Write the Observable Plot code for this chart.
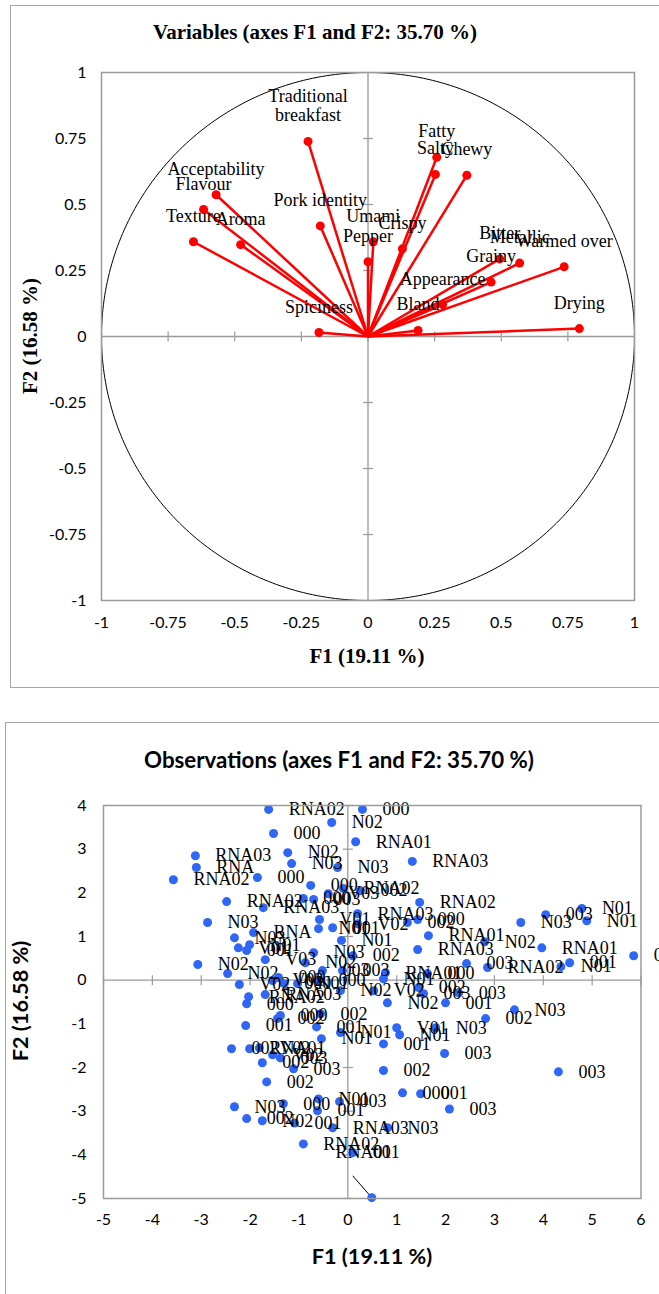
<!DOCTYPE html>
<html><head><meta charset="utf-8">
<script src="https://cdn.jsdelivr.net/npm/d3@7"></script>
<script src="https://cdn.jsdelivr.net/npm/@observablehq/plot@0.6"></script>
<style>
body{margin:0;background:#fff;width:659px;height:1294px;position:relative;overflow:hidden}
.box{position:absolute;border:1.5px solid #a6a6a6;box-sizing:border-box}
.abs{position:absolute;white-space:nowrap;line-height:1;transform:translate(-50%,-50%)}
.serif{font-family:"Liberation Serif","Times New Roman",serif;font-weight:bold}
.sans{font-family:Lato,"Open Sans",sans-serif;font-weight:bold}
#c1,#c2{position:absolute;left:0}
</style></head><body>
<div class="box" style="left:10px;top:5px;width:700px;height:683px"></div>
<div class="box" style="left:5px;top:722px;width:700px;height:700px"></div>
<div id="c1" style="top:0"></div>
<div id="c2" style="top:722px"></div>
<div class="abs serif" style="left:315px;top:32px;font-size:21px">Variables (axes F1 and F2: 35.70 %)</div>
<div class="abs serif" style="left:367px;top:656px;font-size:21px">F1 (19.11 %)</div>
<div class="abs serif" style="left:30px;top:336px;font-size:21px;transform:translate(-50%,-50%) rotate(-90deg)">F2 (16.58 %)</div>
<div class="abs sans" style="left:339px;top:760px;font-size:22.3px">Observations (axes F1 and F2: 35.70 %)</div>
<div class="abs sans" style="left:372px;top:1257px;font-size:21.7px">F1 (19.11 %)</div>
<div class="abs sans" style="left:21px;top:1001px;font-size:21.7px;transform:translate(-50%,-50%) rotate(-90deg)">F2 (16.58 %)</div>
<script>
// ---- Variables chart data ----
const varNames = ["Traditional\nbreakfast","Acceptability","Flavour","Texture","Aroma","Pork identity","Umami","Pepper","Crispy","Fatty","Salty","Chewy","Bitter","Metallic","Warmed over","Grainy","Appearance","Bland","Drying","Spiciness"];
const varF1 = [-0.225,-0.570,-0.617,-0.655,-0.478,-0.179,0.020,0.000,0.129,0.258,0.253,0.371,0.494,0.569,0.736,0.462,0.280,0.188,0.793,-0.184];
const varF2 = [0.739,0.537,0.481,0.359,0.348,0.419,0.359,0.283,0.332,0.679,0.614,0.611,0.294,0.278,0.264,0.206,0.121,0.023,0.030,0.015];
const ticks1 = [-1,-0.75,-0.5,-0.25,0,0.25,0.5,0.75,1];

// ---- Observations chart data ----
const obsLabel = ["RNA02","000","N02","000","RNA01","RNA03","N02","RNA03","RNA","N03","N03","RNA02","000","000","RNA02","V03","RNA02","RNA03","000","RNA02",
"RNA03","002","000","RNA01","RNA03","N02","N03","003","N01","N01","RNA01","001","N01","003","003","RNA02","000","RNA01","002","003",
"N02","001","003","N03","002","V01","N01","N03","001","003","003","002","000","001","003","N03","N03","RNA","N03","N01",
"V01","001","N02","N02","V03","N03","N02","002","N01","V01","N01","001","V02","003","003","N01","V02","000","N01","000",
"N02","V02","V02","000","RNA02","000","RNA03","000","002","002","001","001","N01","N01","002","RNA01","V02","V02","003","002",
"003","002","N01","001","000","N03","003","002","N02","001","RNA03","RNA02","001","003","002"];
const obsF1 = [-1.62,0.30,-0.33,-1.52,0.16,-3.12,-1.23,1.32,-3.10,-1.15,-0.21,-3.57,-1.85,-0.76,-0.09,-0.40,-2.48,-1.73,-0.91,1.47,
0.20,1.22,1.43,1.65,1.43,2.80,3.54,4.05,4.79,4.89,3.97,4.54,4.36,5.85,2.43,2.86,1.63,0.77,1.45,1.55,
0.81,2.00,2.27,3.41,2.82,1.00,1.06,1.80,0.73,1.98,4.31,0.73,1.12,1.49,2.08,0.81,-2.87,-1.93,-2.32,-2.01,
-2.24,-2.07,-3.07,-2.46,-1.69,-0.70,-0.87,0.10,-0.13,-0.58,-0.60,-0.31,0.20,-0.52,-0.11,0.73,-1.54,-1.42,-1.03,-0.60,
-0.15,0.53,-2.22,-1.30,-2.03,-2.07,-1.69,-1.38,-1.44,-0.56,-0.64,-2.09,-0.15,-0.54,-2.38,-2.01,-1.81,-1.54,-1.38,-1.75,
-1.11,-1.66,-0.60,-0.62,-1.32,-2.32,-0.17,-2.07,-1.75,-1.09,-0.31,-0.91,0.10,-0.70,0.26];
const obsF2 = [3.91,3.91,3.61,3.36,3.17,2.85,2.92,2.72,2.58,2.67,2.58,2.30,2.35,2.17,2.10,1.98,1.80,1.66,1.87,1.78,
1.52,1.32,1.39,1.02,0.70,0.88,1.32,1.50,1.64,1.36,0.74,0.40,0.31,0.56,0.38,0.29,0.15,0.17,-0.17,-0.31,
-0.52,-0.52,-0.29,-0.68,-0.88,-1.09,-1.25,-1.09,-1.46,-1.68,-2.10,-2.07,-2.58,-2.60,-2.95,-3.38,1.32,1.09,0.97,0.81,
0.74,0.68,0.36,0.15,0.47,0.63,0.40,0.56,0.91,1.39,1.18,1.20,1.29,0.22,0.22,0.03,-0.01,0.06,-0.08,-0.01,
-0.24,-0.24,-0.10,-0.08,-0.38,-0.54,-0.33,-0.81,-0.88,-0.77,-1.07,-1.04,-1.20,-1.34,-1.57,-1.57,-1.55,-1.71,-1.78,-1.89,
-2.03,-2.33,-2.72,-2.99,-2.83,-2.90,-2.78,-3.17,-3.22,-3.27,-3.38,-3.75,-3.95,1.85,2.05];
// observation shown with a leader line to its displaced label
const calloutLabel = ["RNA01"];
const calloutF1 = [0.49], calloutF2 = [-4.98];
const calloutTextF1 = [-0.25], calloutTextF2 = [-3.95];
const calloutBendF1 = [0.10], calloutBendF2 = [-4.48];
const ticks2X = [-5,-4,-3,-2,-1,0,1,2,3,4,5,6];
const ticks2Y = [-5,-4,-3,-2,-1,0,1,2,3,4];

// ---- helpers ----
const hTick = {draw(ctx, size){const r=Math.sqrt(size/Math.PI); ctx.moveTo(-r,0); ctx.lineTo(r,0);}};
const vTick = {draw(ctx, size){const r=Math.sqrt(size/Math.PI); ctx.moveTo(0,-r); ctx.lineTo(0,r);}};
const fmt = d => String(d);
const serif = '"Liberation Serif","Times New Roman",serif';
const grey = "#9a9a9a";

const vars = varNames.map((n,i)=>({name:n, f1:varF1[i], f2:varF2[i]}));
const circle = d3.range(0, 361).map(a => ({x: Math.cos(a*Math.PI/180), y: Math.sin(a*Math.PI/180)}));

const p1 = Plot.plot({
  width: 659, height: 690,
  marginLeft: 101, marginRight: 25, marginTop: 72, marginBottom: 90,
  x: {domain: [-1, 1]}, y: {domain: [-1, 1]},
  style: {fontFamily: "Lato, sans-serif", fontSize: "16px", background: "transparent", color: "black", overflow: "visible"},
  marks: [
    Plot.ruleX([0], {stroke: grey, strokeWidth: 1.3}),
    Plot.ruleY([0], {stroke: grey, strokeWidth: 1.3}),
    Plot.dot(ticks1, {x: () => 0, y: d => d, symbol: hTick, r: 5, stroke: grey, strokeWidth: 1.2}),
    Plot.dot(ticks1, {x: d => d, y: () => 0, symbol: vTick, r: 5, stroke: grey, strokeWidth: 1.2}),
    Plot.line(circle, {x: "x", y: "y", stroke: "black", strokeWidth: 1}),
    Plot.link(vars, {x1: () => 0, y1: () => 0, x2: "f1", y2: "f2", stroke: "#ff0000", strokeWidth: 2.5}),
    Plot.dot(vars, {x: "f1", y: "f2", r: 4.5, fill: "#ff0000"}),
    Plot.text(vars, {x: "f1", y: "f2", text: "name", dy: -20, lineAnchor: "bottom", lineHeight: 1.1, textAnchor: "middle", fontFamily: serif, fontSize: 18, fill: "black"}),
    Plot.frame({stroke: grey, strokeWidth: 1.5}),
    Plot.axisX({ticks: ticks1, tickSize: 0, tickPadding: 16, tickFormat: fmt, label: null}),
    Plot.axisY({ticks: ticks1, tickSize: 0, tickPadding: 15, tickFormat: fmt, label: null})
  ]
});
document.getElementById("c1").append(p1);

const obs = obsLabel.map((l,i)=>({label:l, f1:obsF1[i], f2:obsF2[i]}));
const callouts = calloutLabel.map((l,i)=>({label:l, f1:calloutF1[i], f2:calloutF2[i], tf1:calloutTextF1[i], tf2:calloutTextF2[i], bf1:calloutBendF1[i], bf2:calloutBendF2[i]}));

const p2 = Plot.plot({
  width: 659, height: 572,
  marginLeft: 103, marginRight: 18.5, marginTop: 83, marginBottom: 96,
  x: {domain: [-5, 6]}, y: {domain: [-5, 4]},
  style: {fontFamily: "Lato, sans-serif", fontSize: "16px", background: "transparent", color: "black", overflow: "visible"},
  marks: [
    Plot.ruleX([0], {stroke: grey, strokeWidth: 1.3}),
    Plot.ruleY([0], {stroke: grey, strokeWidth: 1.3}),
    Plot.dot(ticks2Y, {x: () => 0, y: d => d, symbol: hTick, r: 5, stroke: grey, strokeWidth: 1.2}),
    Plot.dot(ticks2X, {x: d => d, y: () => 0, symbol: vTick, r: 5, stroke: grey, strokeWidth: 1.2}),
    Plot.link(callouts, {x1: "f1", y1: "f2", x2: "bf1", y2: "bf2", stroke: "black", strokeWidth: 1}),
    Plot.dot(obs, {x: "f1", y: "f2", r: 4.5, fill: "#2f66f5"}),
    Plot.dot(callouts, {x: "f1", y: "f2", r: 4.5, fill: "#2f66f5"}),
    Plot.text(obs, {x: "f1", y: "f2", text: "label", dx: 20, textAnchor: "start", fontFamily: serif, fontSize: 18, fill: "black"}),
    Plot.text(callouts, {x: "tf1", y: "tf2", text: "label", textAnchor: "start", fontFamily: serif, fontSize: 18, fill: "black"}),
    Plot.frame({stroke: grey, strokeWidth: 1.5}),
    Plot.axisX({ticks: ticks2X, tickSize: 0, tickPadding: 15, tickFormat: fmt, label: null}),
    Plot.axisY({ticks: ticks2Y, tickSize: 0, tickPadding: 17, tickFormat: fmt, label: null})
  ]
});
document.getElementById("c2").append(p2);
</script>
</body></html>
